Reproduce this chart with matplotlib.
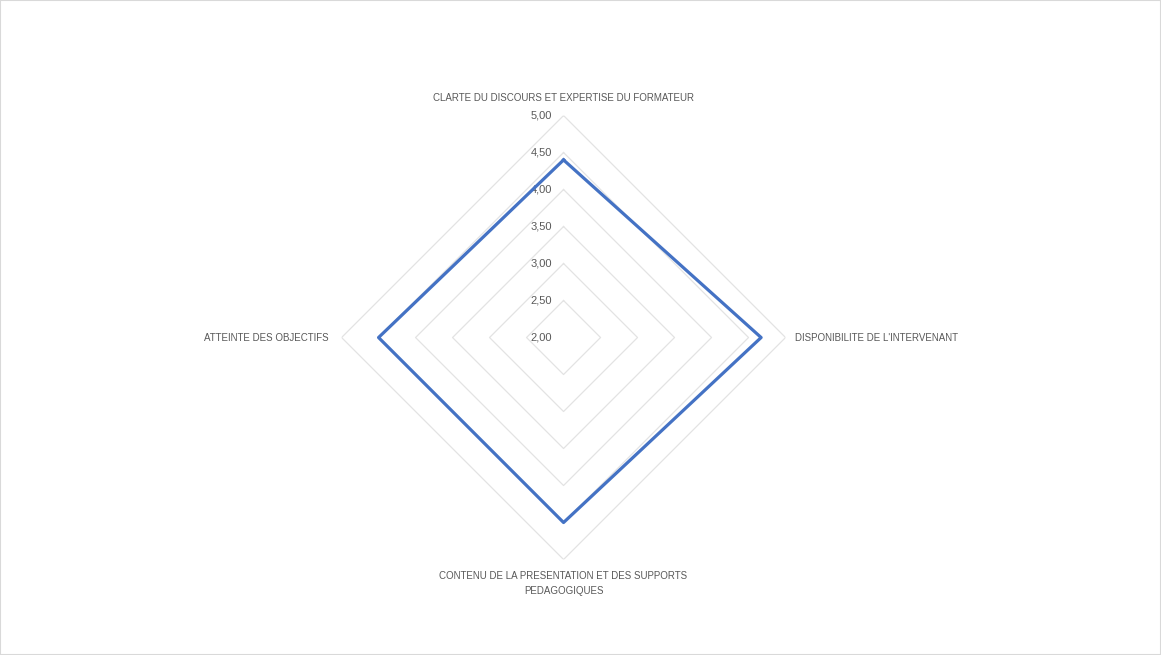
import numpy as np
import matplotlib.pyplot as plt
from matplotlib.patches import Rectangle

# critères d'évaluation (dans le sens horaire depuis le haut)
categories = [
    "CLARTE DU DISCOURS ET EXPERTISE DU FORMATEUR",
    "DISPONIBILITE DE L'INTERVENANT",
    "CONTENU DE LA PRESENTATION ET DES SUPPORTS\nPEDAGOGIQUES",
    "ATTEINTE DES OBJECTIFS",
]
scores = [4.40, 4.67, 4.50, 4.50]
ring_values = [2.0, 2.5, 3.0, 3.5, 4.0, 4.5, 5.0]
ring_labels = ["2,00", "2,50", "3,00", "3,50", "4,00", "4,50", "5,00"]

plt.rcParams['font.family'] = ['Liberation Sans', 'DejaVu Sans']
text_color = "#595959"

fig = plt.figure(figsize=(11.61, 6.55), dpi=100)
fig.patches.append(Rectangle((0, 0), 1, 1, transform=fig.transFigure,
                             fill=False, edgecolor="#d9d9d9", lw=1.5))

ax = fig.add_axes([0.2942, 0.1457, 0.3824, 0.678], projection="polar")
ax.set_theta_zero_location("N")
ax.set_theta_direction(-1)
ax.set_ylim(2, 5)
ax.grid(False)
ax.spines["polar"].set_visible(False)
ax.set_xticks([])
ax.set_yticks([])

angles = np.linspace(0, 2 * np.pi, len(categories), endpoint=False)
closed = np.append(angles, angles[0])

# grille polygonale
for r in ring_values:
    ax.plot(closed, [r] * len(closed), color="#e3e3e3", lw=0.9, zorder=1)

# étiquettes des valeurs
for r, lab in zip(ring_values, ring_labels):
    ax.annotate(lab, xy=(0, r), xytext=(-8.5, 0), textcoords="offset points",
                ha="right", va="center", fontsize=8, color=text_color)

# série
ax.plot(closed, scores + [scores[0]], color="#4472C4", lw=2.3, zorder=3)

# étiquettes des catégories
offsets = [(0, 9), (7, 0), (0, -8.5), (-9, 0)]
aligns = [("center", "bottom"), ("left", "center"),
          ("center", "top"), ("right", "center")]
for a, cat, off, (ha, va) in zip(angles, categories, offsets, aligns):
    ax.annotate(cat, xy=(a, 5), xytext=off, textcoords="offset points",
                ha=ha, va=va, fontsize=7, color=text_color,
                multialignment="center", linespacing=1.6)

plt.savefig("out.png", dpi=100)
